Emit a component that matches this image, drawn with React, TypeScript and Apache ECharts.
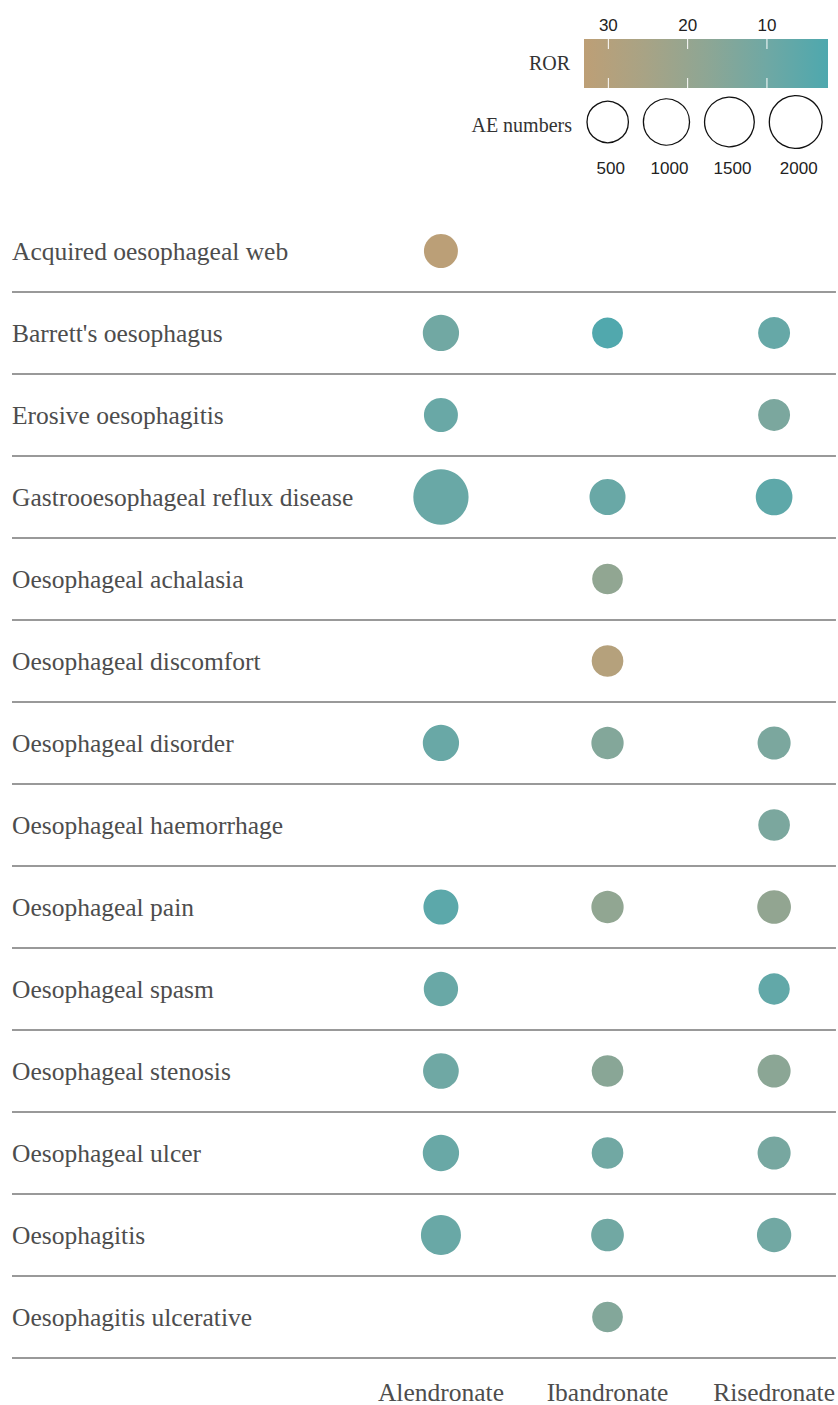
import React, { useEffect, useRef } from "react";
import * as echarts from "echarts";

const terms = [
  "Acquired oesophageal web",
  "Barrett's oesophagus",
  "Erosive oesophagitis",
  "Gastrooesophageal reflux disease",
  "Oesophageal achalasia",
  "Oesophageal discomfort",
  "Oesophageal disorder",
  "Oesophageal haemorrhage",
  "Oesophageal pain",
  "Oesophageal spasm",
  "Oesophageal stenosis",
  "Oesophageal ulcer",
  "Oesophagitis",
  "Oesophagitis ulcerative",
];
const drugs = ["Alendronate", "Ibandronate", "Risedronate"];

const aeAlendronate = [60, 150, 60, 2450, null, null, 150, null, 96, 71, 125, 152, 384, null];
const rorAlendronate = [32.5, 10.5, 8.5, 8.5, null, null, 8.5, null, 5.5, 8.5, 10, 8.5, 8.5, null];
const aeIbandronate = [null, 3, null, 138, 2, 11, 20, null, 20, null, 11, 11, 28, 2];
const rorIbandronate = [null, 3, null, 8.5, 18.5, 30, 15, null, 18.5, null, 16.5, 10.5, 10.5, 15];
const aeRisedronate = [null, 15, 15, 172, null, null, 35, 11, 53, 7, 35, 35, 71, null];
const rorRisedronate = [null, 8, 13, 6, null, null, 13, 13, 19, 7, 17, 12, 10.5, null];

const rorMin = 2.3;
const rorMax = 33.07;
const rorTicks = [30, 20, 10];
const rorColors = ["#4ea8ae", "#6fa8a4", "#8ea694", "#a8a385", "#bd9f76"];
const aeLegend = [500, 1000, 1500, 2000];
const aeMax = 2400;

const sizeOf = (n: number) => 30 + 25 * Math.sqrt(n / aeMax);

export default function App() {
  const ref = useRef<HTMLDivElement>(null);
  useEffect(() => {
    if (!ref.current) return;
    const chart = echarts.init(ref.current, undefined, { renderer: "svg" });

    const aes = [aeAlendronate, aeIbandronate, aeRisedronate];
    const rors = [rorAlendronate, rorIbandronate, rorRisedronate];
    const data: any[] = [];
    aes.forEach((arr, d) => {
      arr.forEach((n, t) => {
        if (n != null && rors[d][t] != null) data.push([d, t, n, rors[d][t]]);
      });
    });

    const serif = "Liberation Serif, Times New Roman, serif";
    const sans = "Liberation Sans, Arial, sans-serif";

    const barX = 584, barY = 39, barW = 244, barH = 49;
    const xOfRor = (v: number) => barX + ((rorMax - v) / (rorMax - rorMin)) * barW;
    const stops = rorColors
      .map((c, i) => ({ offset: 1 - i / (rorColors.length - 1), color: c }))
      .reverse();
    const graphics: any[] = [
      {
        type: "text",
        x: 570,
        y: 63,
        style: { text: "ROR", font: `20px ${serif}`, fill: "#333", align: "right", verticalAlign: "middle" },
      },
      {
        type: "rect",
        shape: { x: barX, y: barY, width: barW, height: barH },
        style: {
          fill: new echarts.graphic.LinearGradient(0, 0, 1, 0, stops),
        },
      },
    ];
    rorTicks.forEach((v) => {
      const x = xOfRor(v);
      graphics.push(
        { type: "line", shape: { x1: x, y1: barY, x2: x, y2: barY + 10 }, style: { stroke: "#fff", lineWidth: 1 } },
        { type: "line", shape: { x1: x, y1: barY + barH - 10, x2: x, y2: barY + barH }, style: { stroke: "#fff", lineWidth: 1 } },
        {
          type: "text",
          x,
          y: 25,
          style: { text: String(v), font: `17px ${sans}`, fill: "#222", align: "center", verticalAlign: "middle" },
        }
      );
    });
    graphics.push({
      type: "text",
      x: 572,
      y: 125,
      style: { text: "AE numbers", font: `20px ${serif}`, fill: "#333", align: "right", verticalAlign: "middle" },
    });
    let cx = 587;
    aeLegend.forEach((n) => {
      const r = sizeOf(n) / 2;
      const c = cx + r;
      graphics.push(
        {
          type: "circle",
          shape: { cx: c, cy: 122, r },
          style: { fill: "#fff", stroke: "#111", lineWidth: 1.3 },
        },
        {
          type: "text",
          x: c + 3,
          y: 168,
          style: { text: String(n), font: `17px ${sans}`, fill: "#222", align: "center", verticalAlign: "middle" },
        }
      );
      cx = c + r + 15;
    });

    chart.setOption({
      animation: false,
      backgroundColor: "#fff",
      grid: { left: 12, right: 0, top: 210, height: 1148, containLabel: false },
      xAxis: {
        type: "value",
        min: -430 / 167,
        max: 2 + 62 / 167,
        axisLine: { show: false },
        axisTick: { show: false },
        splitLine: { show: false },
        axisLabel: {
          customValues: [0, 1, 2],
          formatter: (v: number) => drugs[Math.round(v)] ?? "",
          color: "#4d4d4d",
          fontFamily: serif,
          fontSize: 25.5,
          margin: 21,
        },
      },
      yAxis: {
        type: "category",
        data: terms,
        inverse: true,
        axisLine: { show: false },
        axisTick: { show: false },
        axisLabel: {
          inside: true,
          margin: 0,
          color: "#4d4d4d",
          fontFamily: serif,
          fontSize: 25.5,
        },
        splitLine: {
          show: true,
          showMinLine: false,
          lineStyle: { color: "#777", width: 1.5 },
        },
      },
      visualMap: {
        show: false,
        type: "continuous",
        dimension: 3,
        min: rorMin,
        max: rorMax,
        inRange: { color: rorColors },
      },
      series: [
        {
          type: "scatter",
          data,
          symbol: "circle",
          symbolSize: (v: number[]) => sizeOf(v[2]),
          itemStyle: { opacity: 1 },
        },
      ],
      graphic: graphics,
    });
    return () => chart.dispose();
  }, []);
  return (
    <div
      ref={ref}
      style={{ position: "fixed", left: 0, top: 0, width: 838, height: 1405 }}
    />
  );
}
